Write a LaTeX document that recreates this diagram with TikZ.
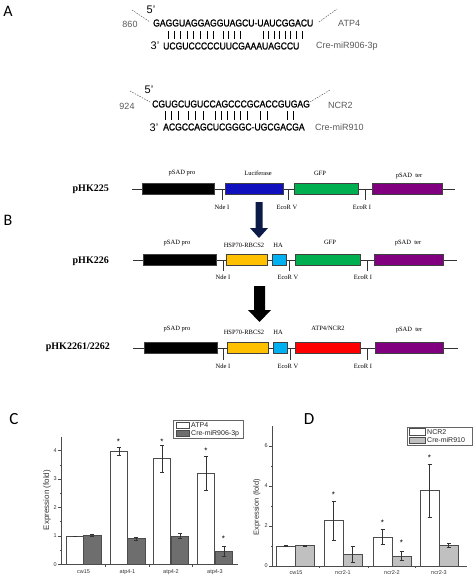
\documentclass[tikz,border=0pt]{standalone}
\usepackage{fontspec}
\setmainfont{Liberation Serif}
\setsansfont{Liberation Sans}
\newfontfamily\seqfont[FakeStretch=0.86, FakeBold=1.2]{Liberation Sans}
\newfontfamily\letterfont{Carlito}
\definecolor{navy}{RGB}{12,26,72}
\definecolor{lucblue}{RGB}{16,16,190}
\definecolor{gfpgreen}{RGB}{0,176,80}
\definecolor{terpurple}{RGB}{128,0,128}
\definecolor{hspyellow}{RGB}{255,192,0}
\definecolor{hacyan}{RGB}{0,176,240}
\definecolor{atpred}{RGB}{255,0,0}
\definecolor{darkbar}{RGB}{110,110,110}
\definecolor{lightbar}{RGB}{192,192,192}
\definecolor{txtgray}{RGB}{90,90,90}
\tikzset{
  panel/.style={font=\letterfont\fontsize{16}{16}\selectfont, inner sep=0pt},
  prime/.style={font=\sffamily\fontsize{11}{11}\selectfont, inner sep=0pt},
  seq/.style={font=\seqfont\fontsize{10}{10}\selectfont, inner sep=0pt, anchor=west},
  glab/.style={font=\sffamily\fontsize{9}{9}\selectfont, text=txtgray, inner sep=0pt},
  dashline/.style={dashed, dash pattern=on 1.5pt off 1.2pt, txtgray, line width=0.5pt},
  pairbar/.style={line width=1pt, black},
  backbone/.style={line width=0.6pt, black!80},
  genebox/.style={draw=black!75, line width=0.5pt},
  site/.style={line width=0.6pt, black!80},
  sitelab/.style={font=\fontsize{6.5}{6.5}\selectfont, inner sep=0pt},
  toplab/.style={font=\fontsize{6.5}{6.5}\selectfont, inner sep=0pt},
  rowlab/.style={font=\bfseries\fontsize{10}{10}\selectfont, inner sep=0pt, anchor=east},
  axisline/.style={line width=0.5pt, black!70},
  barline/.style={line width=0.5pt, black!70},
  errline/.style={line width=0.5pt, black!80},
  ticklab/.style={font=\sffamily\fontsize{5.5}{5.5}\selectfont, text=black!80, inner sep=0pt},
  catlab/.style={font=\sffamily\fontsize{5.5}{5.5}\selectfont, text=black!80, inner sep=0pt},
  ylab/.style={font=\sffamily\fontsize{8}{8}\selectfont, text=black!80, inner sep=0pt, rotate=90},
  leglab/.style={font=\sffamily\fontsize{7}{7}\selectfont, text=black!85, inner sep=0pt, anchor=west},
  star/.style={font=\sffamily\fontsize{8}{8}\selectfont, inner sep=0pt}
}
\begin{document}
\begin{tikzpicture}[x=1pt,y=-1pt]
\useasboundingbox (0,0) rectangle (474,578);
\fill[white] (0,0) rectangle (474,578);

% ---------------- Panel A ----------------
\node[panel] (lA) at (8,11) {A};

\node[prime] (p5a) at (151,10) {5'};
\node[glab] (n860) at (130,24) {860};
\draw[dashline] (132,10) -- (150,22);
\node[seq] (s1) at (153,23) {GAGGUAGGAGGUAGCU-UAUCGGACU};
\draw[dashline] (319,22) -- (337,9);
\node[glab, anchor=west] (atp4a) at (338,23) {ATP4};
\foreach \x in {168,174.4,180.8,187.2,193.6,200,207,213,223,228.7,234.3,240,263,268.6,274.1,279.7,285.3,290.9,296.4,302}
  \draw[pairbar] (\x,31) -- (\x,39);
\node[prime] (p3a) at (155,46) {3'};
\node[seq] (s2) at (163,46) {UCGUCCCCCUUCGAAAUAGCCU};
\node[glab, anchor=west] (mir906) at (316,46) {Cre-miR906-3p};

\node[prime] (p5b) at (149,90) {5'};
\node[glab] (n924) at (127,106) {924};
\draw[dashline] (130,91) -- (150,102);
\node[seq] (s3) at (152,104) {CGUGCUGUCCAGCCCGCACCGUGAG};
\draw[dashline] (310,102) -- (330,90);
\node[glab, anchor=west] (ncr2a) at (328,105) {NCR2};
\foreach \x in {165,171.5,178,188,195.5,203,215,221.4,227.8,234.2,240.6,247,260,267,287,293}
  \draw[pairbar] (\x,111) -- (\x,120);
\node[prime] (p3b) at (154,128) {3'};
\node[seq] (s4) at (163,127) {ACGCCAGCUCGGGC-UGCGACGA};
\node[glab, anchor=west] (mir910) at (315,127) {Cre-miR910};

% ---------------- Panel B ----------------
\node[panel] (lB) at (8,220) {B};

% row 1
\node[rowlab] (r1) at (109,189) {pHK225};
\draw[backbone] (132,189) -- (455,189);
\draw[genebox, fill=black] (142,183.5) rectangle (214,194.5);
\draw[genebox, fill=lucblue] (225,183.5) rectangle (283,194.5);
\draw[genebox, fill=gfpgreen] (294,183.5) rectangle (358,194.5);
\draw[genebox, fill=terpurple] (372,183.5) rectangle (442,194.5);
\foreach \x in {222,288,365} \draw[site] (\x,189) -- (\x,200);
\node[sitelab] (nde1) at (222,207) {Nde I};
\node[sitelab] (ecv1) at (287,207) {EcoR V};
\node[sitelab] (eci1) at (362,207) {EcoR I};
\node[toplab] (t11) at (182,173) {pSAD pro};
\node[toplab] (t12) at (258,173) {Luciferase};
\node[toplab] (t13) at (320,173) {GFP};
\node[toplab] (t14) at (409,176) {pSAD~~ter};

% arrow 1
\fill[navy] (255.5,202) -- (262.5,202) -- (262.5,228) -- (268,228) -- (259,238) -- (250,228) -- (255.5,228) -- cycle;

% row 2
\node[rowlab] (r2) at (109,261) {pHK226};
\draw[backbone] (133,260) -- (457,260);
\draw[genebox, fill=black] (143,254.5) rectangle (216,265.5);
\draw[genebox, fill=hspyellow] (226,254.5) rectangle (267,265.5);
\draw[genebox, fill=hacyan] (272,254.5) rectangle (286,265.5);
\draw[genebox, fill=gfpgreen] (295,254.5) rectangle (360,265.5);
\draw[genebox, fill=terpurple] (374,254.5) rectangle (443,265.5);
\foreach \x in {223,289,367} \draw[site] (\x,260) -- (\x,271);
\node[sitelab] (nde2) at (223,277) {Nde I};
\node[sitelab] (ecv2) at (288,277) {EcoR V};
\node[sitelab] (eci2) at (363,277) {EcoR I};
\node[toplab] (t21) at (177,243) {pSAD pro};
\node[toplab] (t22) at (244,245) {HSP70-RBCS2};
\node[toplab] (t23) at (278,245) {HA};
\node[toplab] (t24) at (330,242) {GFP};
\node[toplab] (t25) at (408,243) {pSAD~~ter};

% arrow 2
\fill[black] (254,286) -- (265,286) -- (265,310) -- (271,310) -- (259.5,322) -- (248,310) -- (254,310) -- cycle;

% row 3
\node[rowlab] (r3) at (110,347) {pHK2261/2262};
\draw[backbone] (133,348) -- (458,348);
\draw[genebox, fill=black] (144,342.5) rectangle (217,353.5);
\draw[genebox, fill=hspyellow] (227,342.5) rectangle (268,353.5);
\draw[genebox, fill=hacyan] (273,342.5) rectangle (287,353.5);
\draw[genebox, fill=atpred] (295,342.5) rectangle (360,353.5);
\draw[genebox, fill=terpurple] (375,342.5) rectangle (443,353.5);
\foreach \x in {223,290,367} \draw[site] (\x,348) -- (\x,360);
\node[sitelab] (nde3) at (223,366) {Nde I};
\node[sitelab] (ecv3) at (288,366) {EcoR V};
\node[sitelab] (eci3) at (363,366) {EcoR I};
\node[toplab] (t31) at (177,329) {pSAD pro};
\node[toplab] (t32) at (244,332) {HSP70-RBCS2};
\node[toplab] (t33) at (278,332) {HA};
\node[toplab] (t34) at (328,328) {ATP4/NCR2};
\node[toplab] (t35) at (409,330) {pSAD~~ter};

% ---------------- Panel C ----------------
\node[panel, font=\letterfont\fontsize{17}{17}\selectfont] (lC) at (14,419) {C};
\foreach \x/\h/\lo/\hi in {66/1.0/1.0/1.0, 110/3.97/3.85/4.12, 153/3.72/3.25/4.2, 197/3.2/2.6/3.8} {
  \pgfmathsetmacro\yt{564.3-28.4*\h}
  \pgfmathsetmacro\ylo{564.3-28.4*\lo}
  \pgfmathsetmacro\yhi{564.3-28.4*\hi}
  \pgfmathsetmacro\xc{\x+8.75}
  \draw[barline, fill=white] (\x,564.3) rectangle (\x+17.5,\yt);
  \draw[errline] (\xc,\ylo) -- (\xc,\yhi) (\xc-2,\ylo) -- (\xc+2,\ylo) (\xc-2,\yhi) -- (\xc+2,\yhi);
}
\foreach \x/\h/\lo/\hi in {83.5/1.03/1.0/1.06, 127.5/0.9/0.85/0.97, 171/1.0/0.92/1.1, 215/0.47/0.3/0.63} {
  \pgfmathsetmacro\yt{564.3-28.4*\h}
  \pgfmathsetmacro\ylo{564.3-28.4*\lo}
  \pgfmathsetmacro\yhi{564.3-28.4*\hi}
  \pgfmathsetmacro\xc{\x+8.75}
  \draw[barline, fill=darkbar] (\x,564.3) rectangle (\x+17.5,\yt);
  \draw[errline] (\xc,\ylo) -- (\xc,\yhi) (\xc-2,\ylo) -- (\xc+2,\ylo) (\xc-2,\yhi) -- (\xc+2,\yhi);
}
\draw[axisline] (61,436.5) -- (61,564.3) -- (238,564.3);
\foreach \v in {0,1,2,3,4} {
  \draw[axisline] (61,{564.3-28.4*\v}) -- (58,{564.3-28.4*\v});
  \node[ticklab, anchor=east] at (57,{564.3-28.4*\v}) {\v};
}
\foreach \v in {0.5,1.5,2.5,3.5} \draw[axisline] (61,{564.3-28.4*\v}) -- (59.5,{564.3-28.4*\v});
\foreach \x in {105.5,149,192.5} \draw[axisline] (\x,564.3) -- (\x,566.5);
\node[catlab] (cc1) at (83.5,572) {cw15};
\node[catlab] (cc2) at (127.5,572) {atp4-1};
\node[catlab] (cc3) at (171,572) {atp4-2};
\node[catlab] (cc4) at (215,572) {atp4-3};
\node[ylab] (cy) at (47,500) {Expression (fold)};
\node[star] at (118.5,441.5) {*};
\node[star] at (162,441.5) {*};
\node[star] at (206,450.5) {*};
\node[star] at (223.5,539) {*};
\draw[line width=0.5pt, black!60] (173,420) rectangle (243,438);
\draw[barline, fill=white] (176,422) rectangle (189,428.5);
\draw[barline, fill=darkbar] (176,430) rectangle (189,436.5);
\node[leglab] (lc1) at (191,425) {ATP4};
\node[leglab] (lc2) at (191,433.5) {Cre-miR906-3p};

% ---------------- Panel D ----------------
\node[panel, font=\letterfont\fontsize{17}{17}\selectfont] (lD) at (309,419) {D};
\foreach \x/\h/\lo/\hi in {276/1.0/0.98/1.02, 324/2.28/1.28/3.25, 373/1.45/1.1/1.82, 420/3.77/2.42/5.1} {
  \pgfmathsetmacro\yt{566-20*\h}
  \pgfmathsetmacro\ylo{566-20*\lo}
  \pgfmathsetmacro\yhi{566-20*\hi}
  \pgfmathsetmacro\xc{\x+9.5}
  \draw[barline, fill=white] (\x,566) rectangle (\x+19,\yt);
  \draw[errline] (\xc,\ylo) -- (\xc,\yhi) (\xc-2,\ylo) -- (\xc+2,\ylo) (\xc-2,\yhi) -- (\xc+2,\yhi);
}
\foreach \x/\h/\lo/\hi in {295.5/1.02/1.0/1.04, 343/0.6/0.2/1.0, 392/0.48/0.28/0.72, 439/1.05/0.92/1.15} {
  \pgfmathsetmacro\yt{566-20*\h}
  \pgfmathsetmacro\ylo{566-20*\lo}
  \pgfmathsetmacro\yhi{566-20*\hi}
  \pgfmathsetmacro\xc{\x+9.5}
  \draw[barline, fill=lightbar] (\x,566) rectangle (\x+19,\yt);
  \draw[errline] (\xc,\ylo) -- (\xc,\yhi) (\xc-2,\ylo) -- (\xc+2,\ylo) (\xc-2,\yhi) -- (\xc+2,\yhi);
}
\draw[axisline] (272,426) -- (272,566) -- (467,566);
\foreach \v in {0,2,4,6} {
  \draw[axisline] (272,{566-20*\v}) -- (269,{566-20*\v});
  \node[ticklab, anchor=east] at (268,{566-20*\v}) {\v};
}
\foreach \v in {1,3,5} \draw[axisline] (272,{566-20*\v}) -- (270.5,{566-20*\v});
\foreach \x in {319.5,368,415.5} \draw[axisline] (\x,566) -- (\x,568.2);
\node[catlab] (dc1) at (296,572.5) {cw15};
\node[catlab] (dc2) at (343,572.5) {ncr2-1};
\node[catlab] (dc3) at (392,572.5) {ncr2-2};
\node[catlab] (dc4) at (439,572.5) {ncr2-3};
\node[ylab, font=\sffamily\fontsize{7.5}{7.5}\selectfont] (dy) at (257,507) {Expression (fold)};
\node[star] at (333.5,495) {*};
\node[star] at (382.5,523) {*};
\node[star] at (401.5,543) {*};
\node[star] at (429.5,458) {*};
\draw[line width=0.5pt, black!60] (407,427) rectangle (472,445);
\draw[barline, fill=white] (409,428.5) rectangle (425,435);
\draw[barline, fill=lightbar] (409,437) rectangle (425,443.5);
\node[leglab] (ld1) at (427,432) {NCR2};
\node[leglab] (ld2) at (427,440) {Cre-miR910};
\end{tikzpicture}
\end{document}
